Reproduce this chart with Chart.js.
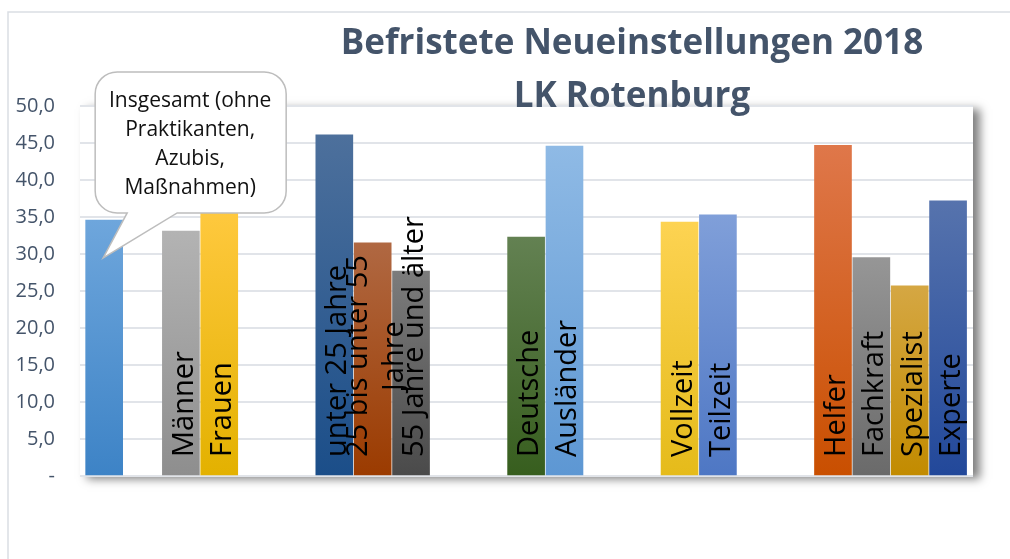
<!DOCTYPE html>
<html lang="de">
<head>
<meta charset="utf-8">
<title>Befristete Neueinstellungen 2018 LK Rotenburg</title>
<script src="https://cdn.jsdelivr.net/npm/chart.js@4.4.1/dist/chart.umd.min.js"></script>
<style>
  html, body { margin: 0; padding: 0; background: #fff; }
  #wrap { width: 1010px; height: 559px; }
</style>
</head>
<body>
<div id="wrap"><canvas id="barChart" width="1010" height="559"></canvas></div>
<script>
// leere Kategorien = Abstand zwischen den Gruppen (wie im Excel-Original)
const categories = [
    ['Insgesamt (ohne', 'Praktikanten,', 'Azubis,', 'Maßnahmen)'], '',
    'Männer', 'Frauen', '', '',
    'unter 25 Jahre', ['25 bis unter 55', 'Jahre'], '55 Jahre und älter', '', '',
    'Deutsche', 'Ausländer', '', '',
    'Vollzeit', 'Teilzeit', '', '',
    'Helfer', 'Fachkraft', 'Spezialist', 'Experte'
];
const values = [
    34.6, null,
    33.1, 36.2, null, null,
    46.1, 31.5, 27.7, null, null,
    32.3, 44.6, null, null,
    34.3, 35.3, null, null,
    44.7, 29.5, 25.7, 37.2
];
const yTickLabels = ['-', '5,0', '10,0', '15,0', '20,0', '25,0', '30,0', '35,0', '40,0', '45,0', '50,0'];
const titleLines = ['Befristete Neueinstellungen 2018', 'LK Rotenburg'];

// Farbverlauf je Balken (oben -> unten)
const colorsTop = [
    '#6ea6dc', null, '#b3b3b3', '#ffc93f', null, null,
    '#4d709c', '#b06842', '#7c7c7c', null, null,
    '#638152', '#8fbae5', null, null,
    '#fdd352', '#809fd9', null, null,
    '#df774a', '#969696', '#d5a743', '#5673ad'
];
const colorsBottom = [
    '#3d83c6', null, '#8e8e8e', '#e3b100', null, null,
    '#1b4e89', '#9b3b00', '#4a4a4a', null, null,
    '#375e1e', '#5d97d3', null, null,
    '#e5bb1a', '#4e77c4', null, null,
    '#c94f00', '#6a6a6a', '#c28b00', '#22489a'
];

const family = "'Open Sans', sans-serif";

const points = values
    .map((v, i) => ({ x: i, y: v }))
    .filter(p => p.y !== null);

function barGradient(context) {
    const chart = context.chart;
    if (!chart.chartArea || !context.raw) return colorsBottom[0];
    const i = context.raw.x;
    const yScale = chart.scales.y;
    const top = yScale.getPixelForValue(context.raw.y);
    const bottom = yScale.getPixelForValue(0);
    const g = chart.ctx.createLinearGradient(0, top, 0, bottom);
    g.addColorStop(0, colorsTop[i]);
    g.addColorStop(1, colorsBottom[i]);
    return g;
}

// Rahmen + Zeichenfläche mit Schatten
const framePlugin = {
    id: 'frame',
    beforeDraw(chart) {
        const c = chart.ctx;
        const a = chart.chartArea;
        c.save();
        c.fillStyle = '#fff';
        c.fillRect(0, 0, chart.width, chart.height);
        c.strokeStyle = '#dadee4';
        c.lineWidth = 1.5;
        c.beginPath();
        c.moveTo(8, chart.height);
        c.lineTo(8, 12);
        c.lineTo(chart.width, 12);
        c.stroke();
        c.shadowColor = 'rgba(0,0,0,0.5)';
        c.shadowBlur = 9;
        c.shadowOffsetX = 7;
        c.shadowOffsetY = 3;
        c.fillStyle = '#fff';
        c.fillRect(a.left, a.top, a.right - a.left, a.bottom - a.top);
        c.restore();
    }
};

// Titel liegt nicht mittig über dem Diagramm, sondern etwas nach rechts versetzt
const titlePlacer = {
    id: 'titlePlacer',
    afterLayout(chart) {
        const t = chart.titleBlock;
        const shift = 632 - (t.left + t.right) / 2;
        t.left += shift;
        t.right += shift;
        t.top = 18;
        t.bottom = t.top + t.height;
    }
};

// senkrechte Beschriftung im Balken ("Innerhalb Basis")
const barLabelPlugin = {
    id: 'barLabels',
    afterDatasetsDraw(chart) {
        const c = chart.ctx;
        const data = chart.data.datasets[0].data;
        c.save();
        c.font = '29px ' + family;
        c.fillStyle = '#000';
        c.textAlign = 'center';
        c.textBaseline = 'alphabetic';
        chart.getDatasetMeta(0).data.forEach((bar, j) => {
            const slot = data[j].x;
            if (slot === 0) return; // Insgesamt -> Sprechblase
            const lines = [].concat(categories[slot]);
            const maxW = Math.max(...lines.map(l => c.measureText(l).width));
            c.save();
            c.translate(bar.x, bar.base - 18);
            c.rotate(-Math.PI / 2);
            lines.forEach((l, k) => {
                c.fillText(l, maxW / 2, 12 + (k - (lines.length - 1) / 2) * 36);
            });
            c.restore();
        });
        c.restore();
    }
};

// Sprechblase für "Insgesamt"
const calloutPlugin = {
    id: 'callout',
    afterDraw(chart) {
        const bar = chart.getDatasetMeta(0).data[0];
        const c = chart.ctx;
        const L = bar.x - 9, R = bar.x + 182, T = bar.y - 148, B = bar.y - 7, r = 22;
        c.save();
        c.beginPath();
        c.moveTo(L + r, T);
        c.lineTo(R - r, T);
        c.arcTo(R, T, R, T + r, r);
        c.lineTo(R, B - r);
        c.arcTo(R, B, R - r, B, r);
        c.lineTo(bar.x + 73, B);
        c.lineTo(bar.x - 1, bar.y + 38);
        c.lineTo(bar.x + 23, B);
        c.lineTo(L + r, B);
        c.arcTo(L, B, L, B - r, r);
        c.lineTo(L, T + r);
        c.arcTo(L, T, L + r, T, r);
        c.closePath();
        c.fillStyle = '#fff';
        c.fill();
        c.strokeStyle = '#bdbdbd';
        c.lineWidth = 1.5;
        c.stroke();
        c.fillStyle = '#111';
        c.font = '21px ' + family;
        c.textAlign = 'center';
        c.textBaseline = 'alphabetic';
        [].concat(categories[0]).forEach((l, k) => {
            c.fillText(l, bar.x + 86, bar.y - 113 + k * 29);
        });
        c.restore();
    }
};

const ctx = document.getElementById('barChart').getContext('2d');
new Chart(ctx, {
    type: 'bar',
    data: {
        datasets: [{
            data: points,
            backgroundColor: barGradient,
            borderWidth: 0,
            barThickness: 37
        }]
    },
    options: {
        responsive: false,
        animation: false,
        layout: {
            padding: { left: 0, right: 37, top: 0, bottom: 83 }
        },
        plugins: {
            legend: { display: false },
            tooltip: { enabled: false },
            title: {
                display: true,
                text: titleLines,
                color: '#44546a',
                padding: 0,
                font: { family: family, size: 35, weight: 'bold', lineHeight: '53px' }
            }
        },
        scales: {
            x: {
                type: 'linear',
                min: -0.63,
                max: 22.65,
                offset: false,
                bounds: 'data',
                display: false
            },
            y: {
                min: 0,
                max: 50,
                ticks: {
                    stepSize: 5,
                    padding: 25,
                    color: '#44546a',
                    font: { family: family, size: 20 },
                    callback: (value, index) => yTickLabels[index]
                },
                grid: {
                    color: '#e1e4e9',
                    lineWidth: 2,
                    drawTicks: false
                },
                border: { display: false },
                afterFit: scale => { scale.width = 80; }
            }
        }
    },
    plugins: [framePlugin, titlePlacer, barLabelPlugin, calloutPlugin]
});
</script>
</body>
</html>
